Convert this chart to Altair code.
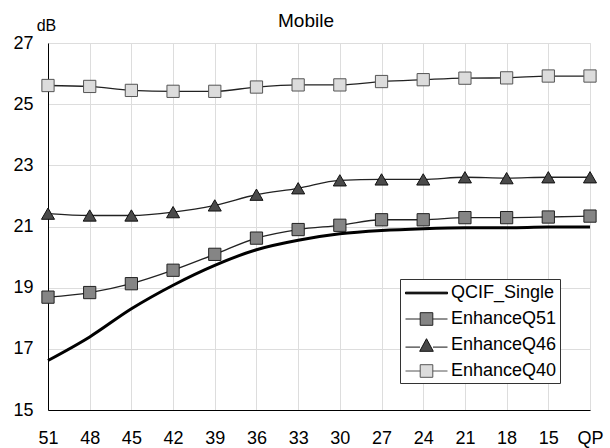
import altair as alt
import pandas as pd

qp_labels = ["51", "48", "45", "42", "39", "36", "33", "30", "27", "24", "21", "18", "15", "QP"]
series_names = ["QCIF_Single", "EnhanceQ51", "EnhanceQ46", "EnhanceQ40"]
qcif_single = [16.62, 17.39, 18.31, 19.08, 19.73, 20.24, 20.55, 20.76, 20.87, 20.93, 20.96, 20.96, 20.98, 20.98]
enhance_q51 = [18.69, 18.84, 19.13, 19.57, 20.09, 20.62, 20.90, 21.04, 21.22, 21.22, 21.29, 21.29, 21.31, 21.34]
enhance_q46 = [21.42, 21.36, 21.36, 21.47, 21.69, 22.04, 22.25, 22.51, 22.54, 22.54, 22.61, 22.58, 22.61, 22.61]
enhance_q40 = [25.61, 25.58, 25.45, 25.42, 25.42, 25.56, 25.63, 25.63, 25.74, 25.80, 25.85, 25.86, 25.92, 25.92]
y_ticks = [15, 17, 19, 21, 23, 25, 27]

values = [qcif_single, enhance_q51, enhance_q46, enhance_q40]
rows = []
for name, vals in zip(series_names, values):
    for i, (q, v) in enumerate(zip(qp_labels, vals)):
        rows.append({"series": name, "qp": q, "order": i, "value": v})
df = pd.DataFrame(rows)

FONT = "Liberation Sans"

x_enc = alt.X("qp:O", sort=qp_labels,
              scale=alt.Scale(type="point", padding=0),
              axis=alt.Axis(title=None, labelAngle=0, labelFontSize=18, labelFont=FONT,
                            labelColor="black", tickSize=0, labelPadding=19,
                            domainColor="black", grid=True))
y_enc = alt.Y("value:Q", scale=alt.Scale(domain=[15, 27], nice=False, zero=False),
              axis=alt.Axis(values=y_ticks, title="dB", titleAngle=0, titleAlign="center",
                            titleBaseline="alphabetic", titleX=-2, titleY=-13,
                            titleFontSize=16, titleFont=FONT, titleFontWeight="normal",
                            titleColor="black",
                            labelFontSize=18, labelFont=FONT, labelColor="black",
                            tickSize=0, labelPadding=15, domainColor="black", grid=True))

base = alt.Chart(df)

line_single = base.transform_filter(alt.datum.series == "QCIF_Single").mark_line(
    color="black", strokeWidth=3, interpolate="monotone"
).encode(x=x_enc, y=y_enc, order="order:Q")

line_enh = base.transform_filter(alt.datum.series != "QCIF_Single").mark_line(
    color="#222", strokeWidth=1.3, interpolate="monotone"
).encode(x=x_enc, y=y_enc, detail="series:N", order="order:Q")

pts51 = base.transform_filter(alt.datum.series == "EnhanceQ51").mark_point(
    shape="square", filled=True, fill="#858585", stroke="#222", strokeWidth=1, size=150, opacity=1
).encode(x=x_enc, y=y_enc)
pts46 = base.transform_filter(alt.datum.series == "EnhanceQ46").mark_point(
    shape="triangle-up", filled=True, fill="#4a4a4a", stroke="#111", strokeWidth=1, size=170, opacity=1
).encode(x=x_enc, y=y_enc)
pts40 = base.transform_filter(alt.datum.series == "EnhanceQ40").mark_point(
    shape="square", filled=True, fill="#dcdcdc", stroke="#555", strokeWidth=1, size=150, opacity=1
).encode(x=x_enc, y=y_enc)

legend_paths = [
    "M-1,-0.08H3V0.08H-1Z",
    "M-1,0H0.4M1.6,0H3M0.4,-0.6H1.6V0.6H0.4Z",
    "M-1,0.2H0.38M1.62,0.2H3M1,-0.6L1.65,0.6H0.35Z",
    "M-1,0H0.4M1.6,0H3M0.4,-0.6H1.6V0.6H0.4Z",
]
legend_fills = ["black", "#858585", "#4a4a4a", "#dcdcdc"]
legend_strokes = ["black", "#222", "#111", "#555"]

leg = alt.Legend(title=None, orient="none", legendX=352, legendY=236,
                 labelFontSize=18, labelFont=FONT, labelColor="black",
                 symbolSize=441, symbolStrokeWidth=1,
                 symbolOpacity=1, labelOffset=24, symbolOffset=2,
                 rowPadding=6, padding=3, strokeColor="#333", fillColor="white",
                 labelLimit=300)

legend_layer = base.mark_point(filled=True, opacity=0).encode(
    x=x_enc, y=y_enc,
    shape=alt.Shape("series:N", sort=series_names,
                    scale=alt.Scale(domain=series_names, range=legend_paths), legend=leg),
    fill=alt.Fill("series:N", sort=series_names,
                  scale=alt.Scale(domain=series_names, range=legend_fills), legend=leg),
    stroke=alt.Stroke("series:N", sort=series_names,
                      scale=alt.Scale(domain=series_names, range=legend_strokes), legend=leg),
)

chart = alt.layer(line_single, line_enh, pts51, pts46, pts40, legend_layer).properties(
    width=542, height=367,
    title=alt.TitleParams("Mobile", fontSize=19, font=FONT, fontWeight="normal",
                          color="black", offset=-29, dx=-13, baseline="alphabetic"),
    autosize=alt.AutoSizeParams(type="none"),
    padding={"left": 48, "top": 43, "right": 20, "bottom": 38},
).configure_view(stroke="black", strokeWidth=1).configure_axis(
    gridColor="#777", gridDash=[4, 9], gridOpacity=0.8, gridWidth=1
).configure(background="white")

chart.save("out.html", embed_options={"renderer": "svg", "actions": False})
